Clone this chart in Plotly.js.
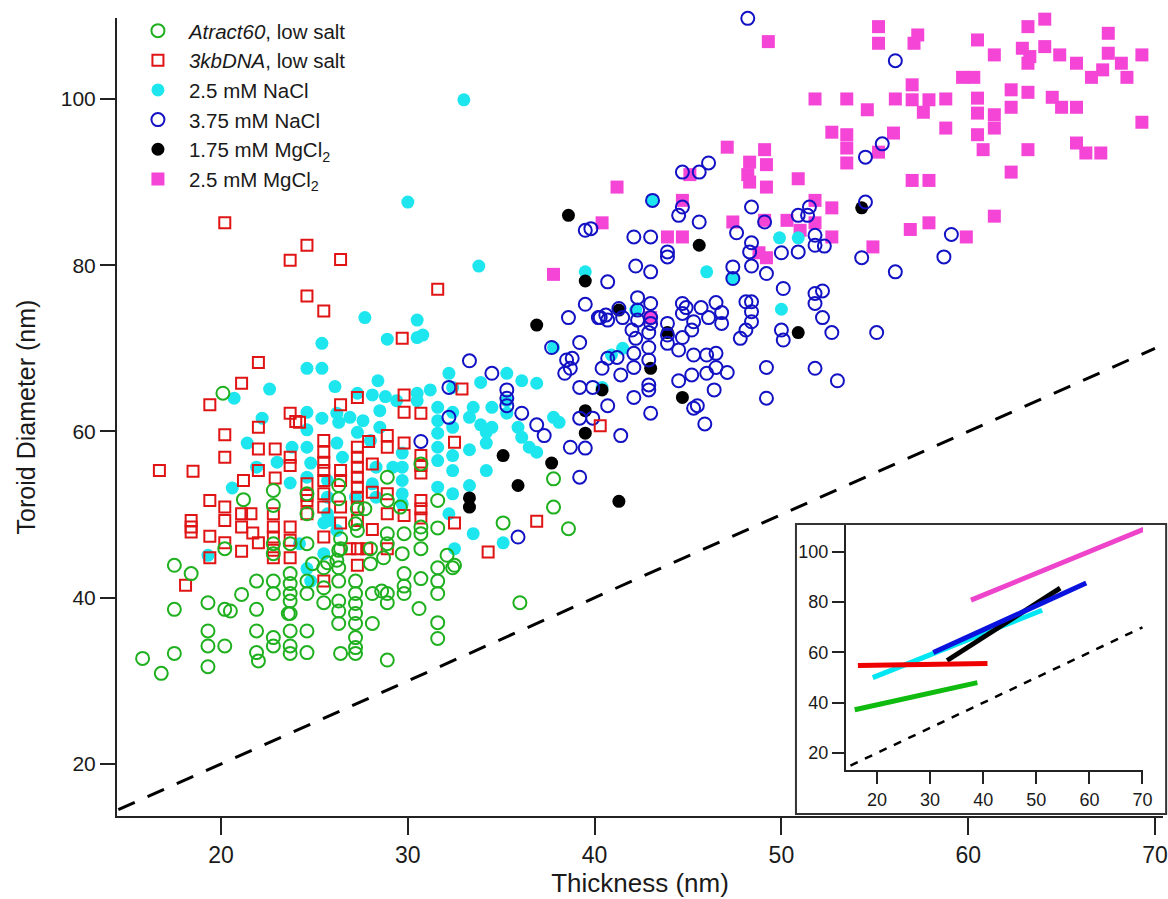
<!DOCTYPE html>
<html>
<head>
<meta charset="utf-8">
<script src="https://cdn.plot.ly/plotly-3.0.1.min.js"></script>
<style>html,body{margin:0;padding:0;background:#fff;}#chart{width:1168px;height:899px;}</style>
</head>
<body>
<div id="chart"></div>
<script>
// ---- Atract60, low salt (green open circles)
const atractX = [20.1,21.2,22.8,22.8,24.6,24.6,26.3,26.3,27.3,27.2,22.8,22.8,23.7,20.2,24.6,24.9,26.3,25.7,17.5,18.4,21.9,22.8,23.7,23.7,23.7,23.7,23.7,24.6,24.6,25.5,25.5,25.5,26.3,26.3,26.3,26.3,26.3,27.2,27.2,27.2,27.2,27.2,27.2,27.2,27.2,17.5,19.3,20.2,20.5,21.1,21.9,22.8,23.6,19.3,19.3,20.2,17.5,15.8,16.8,19.3,21.9,21.9,22.0,22.8,22.8,23.7,23.7,23.7,24.6,24.6,26.4,27.7,
  28.9,28.9,30.7,29.6,27.3,31.6,31.6,30.7,30.7,29.8,28.9,28.9,26.4,26.4,28.0,28.7,30.7,32.1,32.4,35.1,37.8,37.8,38.6,26.2,29.7,31.6,28.0,
  28.1,28.1,28.9,28.9,28.9,29.8,29.8,29.8,30.7,30.6,31.6,31.6,31.6,31.6,32.5,36.0,28.6];
const atractY = [64.6,51.8,52.9,51.1,52.5,50.1,53.5,51.9,50.7,48.9,46.5,45.3,46.5,45.9,46.5,44.1,45.7,44.2,43.9,42.9,42.0,42.0,42.9,41.7,40.5,39.6,38.1,42.0,40.5,43.6,41.2,39.4,43.6,42.0,39.6,38.4,36.9,42.0,40.5,39.3,38.1,36.9,35.2,34.0,33.3,38.6,39.4,38.6,38.4,40.4,38.6,40.5,38.1,36.0,34.2,34.2,33.3,32.7,30.9,31.7,36.0,33.4,32.4,35.2,34.2,36.0,34.2,33.3,36.0,33.4,33.3,50.7,
  54.5,51.7,56.1,50.9,48.1,51.7,48.4,48.5,47.7,47.7,47.7,46.5,47.1,45.9,45.9,44.8,45.9,45.1,43.6,49.0,54.3,50.9,48.3,44.5,45.3,43.6,44.1,
  40.5,36.9,40.5,39.4,32.5,42.9,41.4,40.5,42.3,38.7,42.0,40.5,37.0,35.1,43.9,39.4,40.8];

// ---- 3kbDNA, low salt (red open squares)
const dnaX = [20.2,24.6,23.7,26.4,24.6,25.5,29.7,22.0,21.1,19.4,27.3,29.8,31.6,32.9,40.3,34.3,36.9,16.7,18.5,
  20.2,20.2,22.0,22.0,22.9,23.7,24.0,23.7,23.7,26.4,22.0,21.2,22.9,25.5,25.5,25.5,25.5,25.5,25.5,25.5,24.6,24.6,26.4,26.4,26.4,26.4,
  19.4,20.2,20.2,21.1,21.6,18.4,18.4,18.4,19.4,21.1,21.7,22.0,20.2,21.1,19.4,22.8,22.8,22.8,22.8,22.8,23.7,23.7,23.7,25.5,27.3,27.3,25.5,18.1,
  29.8,30.7,24.2,28.9,28.9,27.9,29.8,32.5,
  27.3,27.3,27.3,27.3,27.3,27.3,27.3,27.3,
  28.1,30.7,30.7,30.7,28.1,28.9,28.9,24.6,24.6,29.8,30.7,30.7,30.7,32.5,28.1,26.9,27.8,28.9];
const dnaY = [85.1,82.4,80.6,80.7,76.3,74.5,71.2,68.3,65.8,63.2,64.1,64.4,77.1,65.1,60.7,45.5,49.2,55.3,55.2,
  59.6,56.9,60.5,57.9,57.9,62.2,61.2,56.9,55.9,63.2,55.3,54.1,54.4,58.9,57.5,56.3,55.3,54.1,52.5,50.9,53.7,52.3,55.3,54.1,50.9,49.0,
  51.7,50.9,49.3,50.1,50.1,49.3,48.5,47.9,47.4,48.5,47.8,46.6,46.6,45.6,44.8,50.1,48.5,47.3,45.7,44.8,48.5,46.9,44.8,47.3,45.9,43.9,42.0,41.5,
  62.3,62.2,61.1,59.5,58.1,58.8,58.6,58.7,
  58.1,56.9,55.7,54.5,53.3,52.1,50.9,49.3,
  56.1,57.1,55.9,55.0,52.7,52.5,50.1,51.7,50.1,49.9,51.7,50.7,49.6,49.0,48.2,45.9,45.9,45.9];

// ---- 2.5 mM NaCl (cyan filled circles)
const nacl25X = [33.0,30.0,33.8,39.5,27.7,30.5,28.9,30.5,25.4,24.6,25.4,22.6,20.7,26.1,28.4,27.3,28.1,28.8,30.5,
  22.2,21.4,23.8,24.6,25.4,26.3,24.6,24.8,23.0,21.9,20.6,23.7,27.3,27.6,19.3,25.5,24.6,24.8,25.8,
  30.8,29.4,30.5,31.2,32.2,32.4,33.9,35.3,36.1,36.9,26.2,26.9,28.5,28.5,31.6,31.6,31.6,32.4,32.4,33.3,33.9,34.2,34.5,33.5,34.5,35.3,35.3,36.1,36.5,36.9,37.8,35.9,
  24.6,24.6,26.2,26.5,28.0,28.3,29.2,29.7,29.7,29.7,31.6,31.6,32.4,32.4,33.3,34.2,34.2,33.3,32.4,29.7,29.7,31.6,25.7,25.7,25.7,28.1,28.3,33.5,35.1,27.2,25.5,26.2,32.5,24.2,32.2,
  43.1,49.9,50.9,46.0,47.4,50.0,42.2,41.5,40.4,38.1,37.8,40.9];
const nacl25Y = [99.9,87.6,79.9,79.2,73.7,73.4,71.1,71.3,70.6,67.6,67.6,65.1,64.0,65.4,66.1,64.6,64.4,64.2,64.6,
  61.6,58.6,58.1,62.3,61.6,61.1,60.2,56.2,56.3,55.7,53.2,53.8,59.9,61.3,45.1,45.3,43.5,42.0,49.3,
  71.6,63.7,63.7,65.0,67.0,65.3,65.9,67.0,66.1,65.8,62.2,61.7,62.5,60.5,62.9,61.3,59.8,62.3,60.5,61.7,60.8,59.9,60.5,62.9,62.9,63.7,62.2,59.3,58.1,57.5,61.7,60.5,
  58.1,54.5,58.6,56.9,58.9,55.7,55.7,57.4,55.7,54.1,58.1,56.5,57.1,55.3,57.8,58.6,55.3,53.5,52.5,52.5,51.3,53.3,54.1,52.1,50.1,53.7,52.1,47.7,46.6,52.1,49.0,48.1,45.9,46.5,50.1,
  87.8,83.3,83.3,79.2,78.4,74.7,74.6,70.0,65.3,61.1,70.1,69.2];

// ---- 3.75 mM NaCl (blue open circles)
const nacl375X = [39.5,38.6,39.2,40.2,37.7,38.5,38.8,38.4,38.7,33.3,34.5,32.2,35.3,35.3,35.3,36.1,36.9,37.3,39.2,39.9,39.2,39.9,38.7,39.5,39.2,32.2,30.7,35.9,
  44.7,45.6,46.1,54.5,54.5,43.1,44.7,44.5,48.4,45.6,47.6,49.1,50.9,51.5,51.4,39.5,39.8,42.1,43.0,43.9,43.9,48.4,48.3,50.0,50.9,51.8,51.8,52.3,54.3,
  42.2,43.0,47.4,47.4,48.4,49.2,40.7,50.1,51.8,52.2,51.8,52.2,52.7,55.1,
  42.3,43.0,42.3,43.0,42.3,43.0,40.3,40.6,40.7,41.5,41.3,44.7,44.9,44.7,45.7,46.5,46.8,45.3,45.2,46.1,46.8,48.1,48.4,48.4,48.4,48.1,47.8,
  43.9,43.9,43.9,44.7,44.5,42.0,42.2,42.9,50.0,50.1,42.9,42.9,42.1,42.1,41.2,40.7,40.4,41.4,42.9,42.9,42.1,44.5,45.2,46.0,46.5,47.1,46.0,46.5,45.3,46.4,45.3,45.5,45.9,
  49.2,49.2,51.8,53.0,40.7,41.4,43.0,
  48.2,56.1,55.4,59.1,58.7,56.1];
const nacl375Y = [75.3,73.7,70.7,73.7,70.1,68.6,68.8,67.0,67.6,68.5,67.0,65.3,65.0,64.0,63.1,62.2,60.8,59.5,65.3,65.3,61.6,61.6,58.1,58.0,54.5,61.7,58.8,47.3,
  91.2,91.2,92.3,93.0,87.6,87.8,87.0,86.0,87.0,85.2,83.9,85.2,86.0,87.0,86.0,84.2,84.4,83.4,83.4,81.6,81.0,82.7,81.6,81.5,81.6,83.6,82.4,82.3,80.9,
  79.9,79.2,79.8,78.4,79.9,79.0,78.0,77.2,76.6,76.9,75.4,73.7,71.9,71.9,
  76.1,75.4,74.6,73.7,73.4,73.0,73.7,74.0,73.4,73.7,74.8,75.4,74.9,74.2,74.9,75.5,74.3,73.2,72.2,73.7,73.0,75.6,75.6,74.4,73.2,72.2,71.2,
  73.0,71.6,70.6,71.3,69.8,72.2,71.2,71.9,72.2,71.0,70.1,68.6,69.4,67.7,68.9,68.8,67.6,66.8,65.6,65.0,64.1,66.1,66.8,67.0,67.7,67.1,69.2,69.4,69.2,65.0,62.8,63.1,60.9,
  67.7,64.0,67.6,66.1,63.1,59.5,62.2,
  109.7,104.6,94.6,83.7,81.0,79.2];

// ---- 1.75 mM MgCl2 (black filled circles)
const mg175X = [38.6,45.6,39.5,41.3,43.9,43.0,40.4,44.7,50.9,54.3,39.5,39.5,36.9,35.1,35.9,37.7,33.3,33.3,41.3];
const mg175Y = [86.0,82.4,78.1,74.6,71.9,67.6,65.0,64.1,71.9,86.9,62.5,59.8,72.8,57.1,53.5,56.2,52.0,50.9,51.6];

// ---- 2.5 mM MgCl2 (magenta filled squares)
const mg25X = [37.8,41.2,40.4,47.1,48.3,49.1,49.2,48.2,48.3,49.2,44.7,43.9,44.7,45.1,47.4,49.1,50.3,51.0,51.8,52.7,52.7,51.8,50.9,52.7,53.5,53.5,53.5,54.9,48.8,49.2,43.0,
  49.3,55.2,55.2,57.3,57.1,60.5,61.4,63.2,64.1,62.9,63.3,63.2,64.1,64.9,65.8,67.5,67.5,68.2,68.5,66.6,67.2,69.3,69.3,59.7,60.3,51.8,53.5,54.6,56.1,57.0,57.0,57.9,57.6,58.8,60.5,60.5,61.4,61.4,62.3,62.3,63.2,64.5,65.0,65.8,58.8,60.5,60.8,63.2,65.8,66.3,67.1,62.3,57.0,57.9,61.4,56.9,57.9,59.9,56.0,55.2];
const mg25Y = [78.9,89.4,85.1,94.2,92.4,93.9,92.1,90.9,90.0,89.4,87.8,83.4,83.4,90.9,85.2,85.4,85.4,84.2,87.8,86.9,83.4,85.1,90.4,96.0,95.7,94.1,92.3,82.2,81.5,80.9,73.7,
  106.9,108.7,106.7,107.7,106.7,107.1,105.3,108.7,109.6,106.1,105.1,104.3,106.3,105.3,104.3,107.9,105.5,104.3,102.6,102.6,103.5,105.3,97.2,102.6,102.6,100.0,100.0,98.7,100.0,101.7,99.9,99.9,98.4,100.0,100.1,98.3,98.1,96.5,101.1,99.0,100.8,100.2,99.0,99.0,96.5,95.7,93.9,93.9,94.7,93.5,93.5,91.2,90.2,90.2,85.9,84.3,85.1,83.4,95.9,93.6];

// ---- reference line y = x (main and inset)
const diagX = [14.5, 70];
const diagY = [14.5, 70];
const insetDiagX = [15, 70];
const insetDiagY = [15, 70];

// ---- inset fit lines [x0,x1],[y0,y1]
const fitMg25X = [37.7, 70.2];   const fitMg25Y = [80.8, 109.0];
const fitMg175X = [33.2, 54.5];  const fitMg175Y = [56.8, 85.6];
const fitNa375X = [30.6, 59.4];  const fitNa375Y = [60.0, 87.6];
const fitNa25X = [19.2, 51.1];   const fitNa25Y = [50.0, 76.8];
const fitDnaX = [16.4, 40.8];    const fitDnaY = [54.8, 55.6];
const fitAtractX = [15.8, 38.9]; const fitAtractY = [37.2, 48.0];

const xTicks = [20, 30, 40, 50, 60, 70];
const yTicks = [20, 40, 60, 80, 100];

const FONT = 'Arial, "Liberation Sans", Helvetica, sans-serif';
const C = {green:'#1fb01f', red:'#e01414', cyan:'#1ee6ef', blue:'#1212c4', black:'#000000', magenta:'#f545d6'};

const traces = [
  {x: diagX, y: diagY, mode:'lines', line:{color:'#000', width:3, dash:'18px,14px'}, showlegend:false, hoverinfo:'skip'},
  {x: mg25X, y: mg25Y, mode:'markers', name:'2.5 mM MgCl<sub>2</sub>', legendrank:6, cliponaxis:false,
   marker:{symbol:'square', size:13, color:C.magenta}},
  {x: nacl25X, y: nacl25Y, mode:'markers', name:'2.5 mM NaCl', legendrank:3, cliponaxis:false,
   marker:{symbol:'circle', size:13, color:C.cyan}},
  {x: mg175X, y: mg175Y, mode:'markers', name:'1.75 mM MgCl<sub>2</sub>', legendrank:5, cliponaxis:false,
   marker:{symbol:'circle', size:13, color:C.black}},
  {x: nacl375X, y: nacl375Y, mode:'markers', name:'3.75 mM NaCl', legendrank:4, cliponaxis:false,
   marker:{symbol:'circle-open', size:13, color:C.blue, line:{width:2, color:C.blue}}},
  {x: dnaX, y: dnaY, mode:'markers', name:'<i>3kbDNA</i>, low salt', legendrank:2, cliponaxis:false,
   marker:{symbol:'square-open', size:11, color:C.red, line:{width:2, color:C.red}}},
  {x: atractX, y: atractY, mode:'markers', name:'<i>Atract60</i>, low salt', legendrank:1, cliponaxis:false,
   marker:{symbol:'circle-open', size:13, color:C.green, line:{width:2, color:C.green}}},
  // inset
  {x: insetDiagX, y: insetDiagY, xaxis:'x2', yaxis:'y2', mode:'lines', line:{color:'#000', width:2.5, dash:'8px,8px'}, showlegend:false, hoverinfo:'skip'},
  {x: fitMg25X, y: fitMg25Y, xaxis:'x2', yaxis:'y2', mode:'lines', line:{color:'#ee44cc', width:5}, showlegend:false},
  {x: fitNa25X, y: fitNa25Y, xaxis:'x2', yaxis:'y2', mode:'lines', line:{color:'#00e6f2', width:5}, showlegend:false},
  {x: fitMg175X, y: fitMg175Y, xaxis:'x2', yaxis:'y2', mode:'lines', line:{color:'#000', width:5}, showlegend:false},
  {x: fitNa375X, y: fitNa375Y, xaxis:'x2', yaxis:'y2', mode:'lines', line:{color:'#0a12dd', width:5}, showlegend:false},
  {x: fitDnaX, y: fitDnaY, xaxis:'x2', yaxis:'y2', mode:'lines', line:{color:'#ee0000', width:5}, showlegend:false},
  {x: fitAtractX, y: fitAtractY, xaxis:'x2', yaxis:'y2', mode:'lines', line:{color:'#10bb10', width:5}, showlegend:false}
];

const axisCommon = {showgrid:false, zeroline:false, showline:true, linecolor:'#222', linewidth:2,
  ticks:'outside', tickcolor:'#222', tickwidth:2};

const layout = {
  width:1168, height:899,
  margin:{l:117, r:5, t:18, b:83},
  paper_bgcolor:'#fff', plot_bgcolor:'rgba(0,0,0,0)',
  font:{family:FONT, color:'#1a1a1a'},
  showlegend:true,
  legend:{x:0.0095, y:1.009, xanchor:'left', yanchor:'top', bgcolor:'rgba(255,255,255,0)', itemwidth:52,
    font:{size:20.5, family:FONT, color:'#1a1a1a'}, traceorder:'normal'},
  xaxis: Object.assign({}, axisCommon, {range:[14.43, 70.43], tickvals:xTicks, ticklen:17,
    tickfont:{size:23}, title:{text:'Thickness (nm)', font:{size:26}, standoff:4}}),
  yaxis: Object.assign({}, axisCommon, {range:[13.74, 109.74], tickvals:yTicks, ticklen:15,
    tickfont:{size:21}, title:{text:'Toroid Diameter (nm)', font:{size:25}, standoff:18}}),
  xaxis2: Object.assign({}, axisCommon, {domain:[0.6969, 0.9809], anchor:'y2', range:[14.15, 70.1],
    tickvals:xTicks, ticklen:12, tickfont:{size:18}}),
  yaxis2: Object.assign({}, axisCommon, {domain:[0.0576, 0.3647], anchor:'x2', range:[13.23, 110.7],
    tickvals:yTicks, ticklen:12, tickfont:{size:18}}),
  shapes:[{type:'rect', xref:'paper', yref:'paper', x0:0.6491, x1:1.003, y0:0.0025, y1:0.366,
    line:{color:'#333', width:2}, fillcolor:'#fff', layer:'below'}]
};

Plotly.newPlot('chart', traces, layout, {displayModeBar:false, staticPlot:true});
</script>
</body>
</html>
